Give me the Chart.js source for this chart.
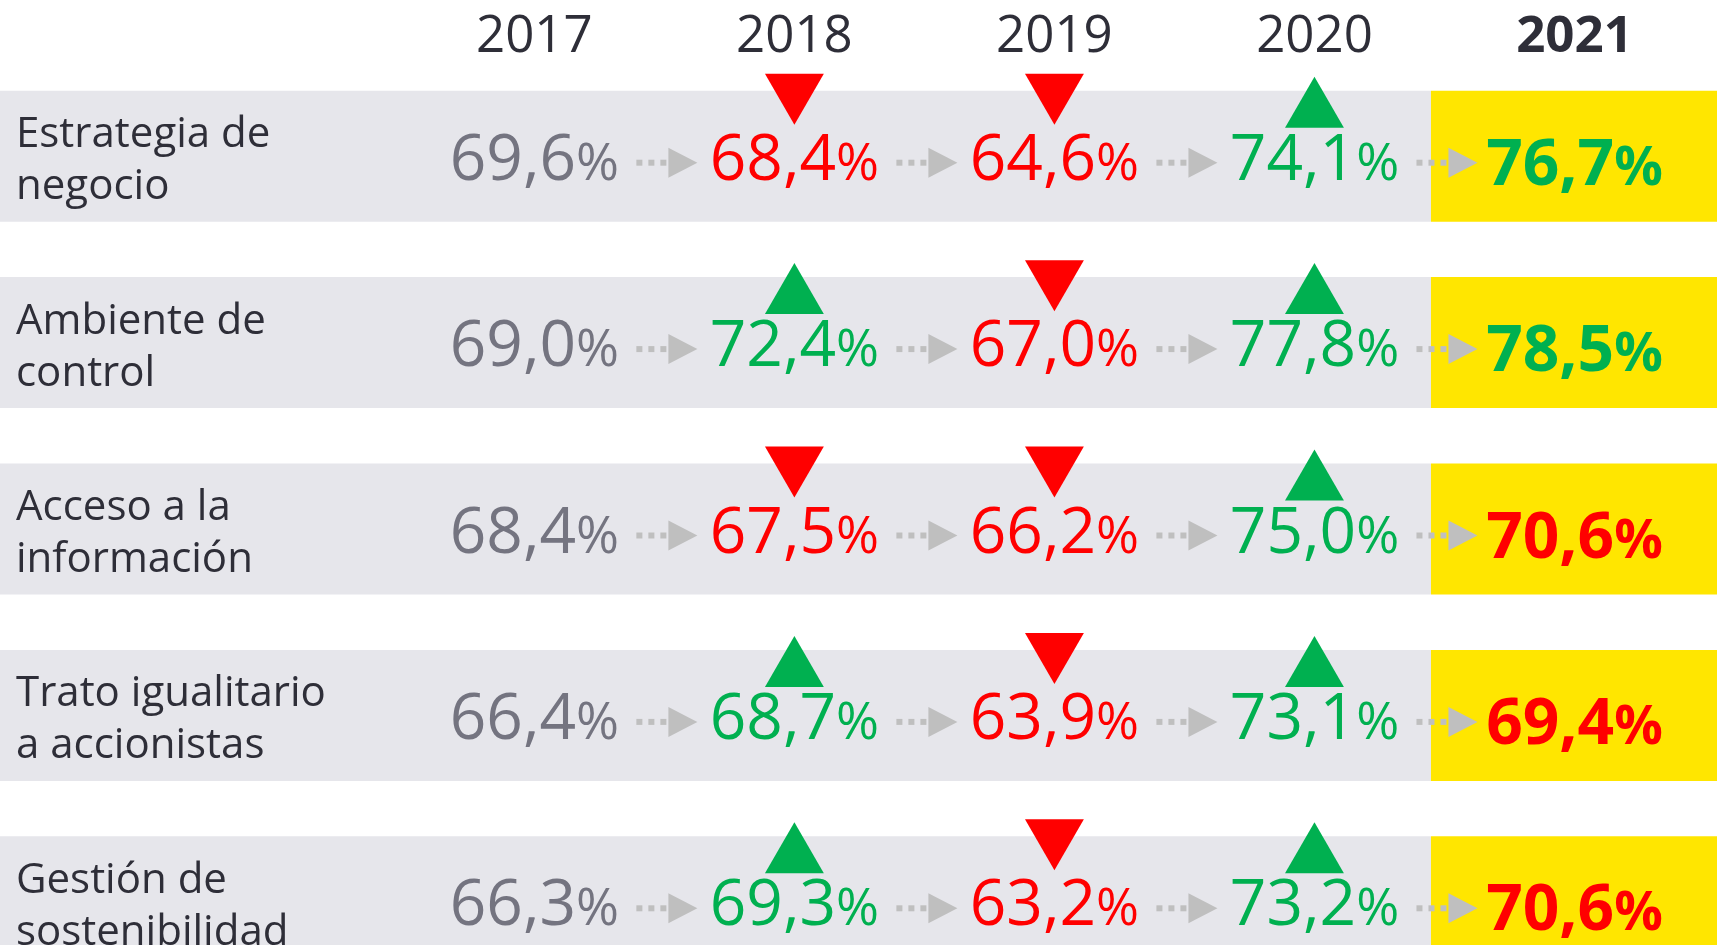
<!DOCTYPE html>
<html lang="es">
<head>
<meta charset="utf-8">
<title>Evolución 2017-2021</title>
<script src="https://cdn.jsdelivr.net/npm/chart.js@4.4.1/dist/chart.umd.min.js"></script>
<style>
  html, body { margin: 0; padding: 0; background: #fff; overflow: hidden; }
  #wrap { width: 1717px; height: 995px; }
</style>
</head>
<body>
<div id="wrap"><canvas id="chart" width="1717" height="995"></canvas></div>
<script>
// data
const years = [2017, 2018, 2019, 2020, 2021];
const rowLabels = [
  ['Estrategia de', 'negocio'],
  ['Ambiente de', 'control'],
  ['Acceso a la', 'información'],
  ['Trato igualitario', 'a accionistas'],
  ['Gestión de', 'sostenibilidad']
];
const estrategia = [69.6, 68.4, 64.6, 74.1, 76.7];
const ambiente   = [69.0, 72.4, 67.0, 77.8, 78.5];
const acceso     = [68.4, 67.5, 66.2, 75.0, 70.6];
const trato      = [66.4, 68.7, 63.9, 73.1, 69.4];
const gestion    = [66.3, 69.3, 63.2, 73.2, 70.6];
const rows = [estrategia, ambiente, acceso, trato, gestion];

// look
const FONT = "'Open Sans', sans-serif";
const DARK = '#2E2E38', GREY_TXT = '#747480', RED = '#FF0000', GREEN = '#00B050';
const BAND = '#E6E6EB', YELLOW = '#FFE600', ARROW = '#BFBFBF';
const X_MIN = 2014.945, X_MAX = 2021.548, SPLIT = 2020.448;

// up / down markers from the year over year change
const upMarks = [], downMarks = [];
rows.forEach((v, i) => {
  for (let j = 1; j < years.length - 1; j++) {
    if (v[j] > v[j - 1]) upMarks.push({x: years[j], y: i - 0.244});
    else downMarks.push({x: years[j], y: i - 0.351});
  }
});

function colourFor(v, j) {
  if (j === 0) return GREY_TXT;
  return v[j] > v[j - 1] ? GREEN : RED;
}

const valueLabels = {
  id: 'valueLabels',
  afterDatasetsDraw(chart) {
    const {ctx, scales: {x, y}} = chart;
    ctx.save();
    rows.forEach((v, i) => {
      const cy = y.getPixelForValue(i);
      // dotted connectors
      ctx.fillStyle = ARROW;
      for (let j = 0; j < years.length - 1; j++) {
        const tip = x.getPixelForValue(years[j]) + 163, ay = cy + 6.5;
        for (let d = 0; d < 3; d++) ctx.fillRect(tip - 61 + d * 12, ay - 3, 6, 6);
        ctx.beginPath();
        ctx.moveTo(tip - 29, ay - 15);
        ctx.lineTo(tip, ay);
        ctx.lineTo(tip - 29, ay + 15);
        ctx.closePath();
        ctx.fill();
      }
      // values
      v.forEach((val, j) => {
        const last = j === years.length - 1;
        const num = val.toFixed(1).replace('.', ',');
        const bigF = (last ? 'bold 64px ' : '64px ') + FONT;
        const smallF = (last ? 'bold 54px ' : '52px ') + FONT;
        ctx.font = bigF;
        const w1 = ctx.measureText(num).width;
        ctx.font = smallF;
        const w2 = ctx.measureText('%').width;
        const left = x.getPixelForValue(years[j]) - (w1 + w2) / 2;
        const base = cy + (last ? 28.5 : 23.5);
        ctx.fillStyle = colourFor(v, j);
        ctx.textAlign = 'left';
        ctx.textBaseline = 'alphabetic';
        ctx.font = bigF;
        ctx.fillText(num, left, base);
        ctx.font = smallF;
        ctx.fillText('%', left + w1, base);
      });
    });
    ctx.restore();
  }
};

const bandRows = (from, to) => rows.map((_, i) => ({y: i, x: [from, to]}));

new Chart(document.getElementById('chart'), {
  type: 'bar',
  data: {
    datasets: [
      {type: 'scatter', data: upMarks, pointStyle: 'triangle', pointRadius: 34, pointRotation: 0,
       pointBackgroundColor: GREEN, pointBorderWidth: 0, order: 1, clip: false},
      {type: 'scatter', data: downMarks, pointStyle: 'triangle', pointRadius: 34, pointRotation: 180,
       pointBackgroundColor: RED, pointBorderWidth: 0, order: 1, clip: false},
      {type: 'bar', data: bandRows(X_MIN, SPLIT), backgroundColor: BAND, grouped: false,
       categoryPercentage: 1, barPercentage: 0.703, order: 3},
      {type: 'bar', data: bandRows(SPLIT, X_MAX), backgroundColor: YELLOW, grouped: false,
       categoryPercentage: 1, barPercentage: 0.703, order: 2}
    ]
  },
  options: {
    indexAxis: 'y',
    responsive: false,
    animation: false,
    events: [],
    layout: {padding: 0, autoPadding: false},
    plugins: {legend: {display: false}, tooltip: {enabled: false}},
    scales: {
      x: {
        type: 'linear', position: 'top', min: X_MIN, max: X_MAX,
        grid: {display: false}, border: {display: false},
        afterBuildTicks: s => { s.ticks = years.map(v => ({value: v})); },
        afterFit: s => { s.height = 63; },
        ticks: {
          autoSkip: false, maxRotation: 0, padding: -13, color: DARK,
          font: c => ({family: FONT, size: 51, weight: c.tick && c.tick.value === 2021 ? 'bold' : 'normal'}),
          callback: v => String(v)
        }
      },
      y: {
        type: 'linear', reverse: true, min: -0.5, max: 4.5, offset: false,
        grid: {display: false}, border: {display: false},
        afterBuildTicks: s => { s.ticks = rowLabels.map((_, i) => ({value: i})); },
        afterFit: s => { s.width = 0; s.paddingTop = 0; s.paddingBottom = 0; },
        ticks: {
          mirror: true, padding: 16, z: 1, autoSkip: false, crossAlign: 'near', color: DARK,
          labelOffset: 5,
          font: {family: FONT, size: 42, lineHeight: 52 / 42},
          callback: v => rowLabels[Math.round(v)]
        }
      }
    }
  },
  plugins: [valueLabels]
});
</script>
</body>
</html>
